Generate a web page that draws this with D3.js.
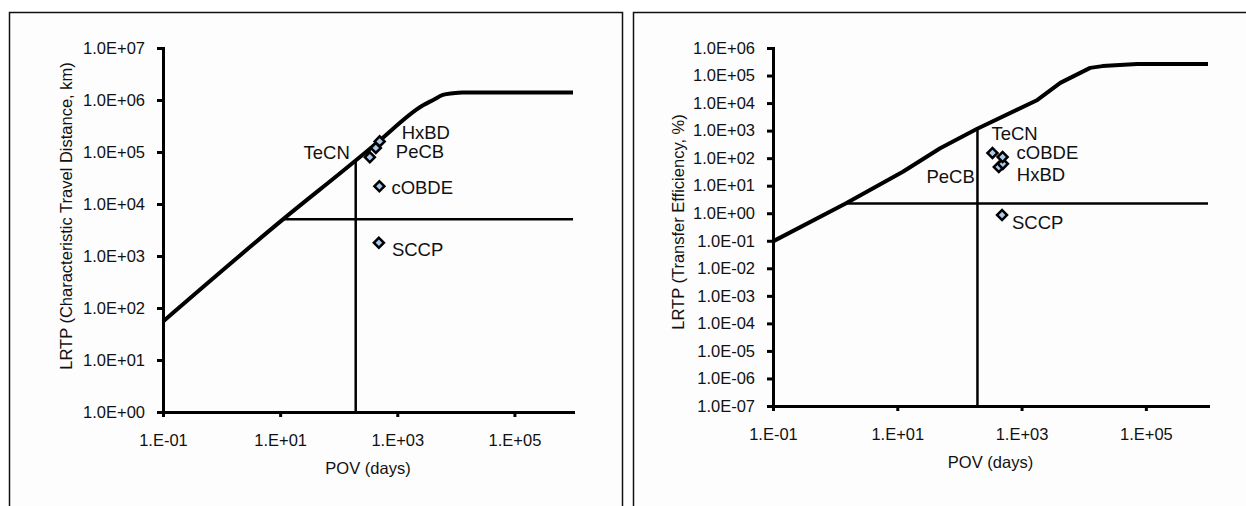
<!DOCTYPE html>
<html>
<head>
<meta charset="utf-8">
<script src="https://cdn.jsdelivr.net/npm/d3@7"></script>
<style>
  body { margin: 0; background: #fff; }
  svg { display: block; font-family: "Liberation Sans", Arial, sans-serif; }
  .axis path, .axis line { stroke: #000; stroke-width: 3; }
  .axis text { font-size: 16.5px; fill: #111; }
</style>
</head>
<body>
<svg id="chart" width="1246" height="506"></svg>
<script>
// chemicals, POV in days (shared by both panels)
const chemicals = ["TeCN", "PeCB", "HxBD", "cOBDE", "SCCP"]
const chemPOV = [340, 430, 500, 495, 485]
const chemCTD = [79000, 120000, 160000, 22000, 1800]
const chemTE = [155, 48, 62, 110, 0.87]

// reference (model) curves
const ctdCurvePOV = [0.1, 12, 175, 450, 2800, 4100, 6000, 8900, 13000, 1e6]
const ctdCurveValue = [55, 5400, 62000, 150000, 800000, 1000000, 1250000, 1350000, 1400000, 1400000]
const teCurvePOV = [0.1, 1.45, 12.3, 49, 190, 1800, 4200, 12700, 20000, 38000, 73000, 1e6]
const teCurveValue = [0.095, 2.2, 32, 230, 1150, 13000, 54000, 190000, 220000, 240000, 260000, 260000]

// thresholds
const povThreshold = 195
const ctdThreshold = 5097
const teThreshold = 2.248

// ticks
const povTicks = [0.1, 10, 1e3, 1e5]
const ctdTicks = [1, 10, 1e2, 1e3, 1e4, 1e5, 1e6, 1e7]
const teTicks = [1e-7, 1e-6, 1e-5, 1e-4, 1e-3, 1e-2, 1e-1, 1, 10, 1e2, 1e3, 1e4, 1e5, 1e6]

const svg = d3.select("#chart")

function expFmt(d, digits) {
    let [m, e] = d.toExponential(digits).split("e")
    if (digits == 0) m = m + "."
    let sign = e[0] == "-" ? "-" : "+"
    let n = e.replace(/[+-]/, "")
    if (n.length < 2) n = "0" + n
    return m + "E" + sign + n
}

function drawPanel(cfg) {
    const g = svg.append("g")

    g.append("rect")
        .attr("x", cfg.box[0]).attr("y", cfg.box[1])
        .attr("width", cfg.box[2]).attr("height", cfg.box[3])
        .attr("fill", "#fdfdfd").attr("stroke", "#111").attr("stroke-width", 1.5)

    const x = d3.scaleLog().domain([0.1, 1e6]).range([cfg.left, cfg.right])
    const y = d3.scaleLog().domain(cfg.yDomain).range([cfg.bottom, cfg.top])

    // curve
    const pts = cfg.curveX.map((v, i) => [v, cfg.curveY[i]])
    g.append("path")
        .datum(pts)
        .attr("fill", "none").attr("stroke", "#000").attr("stroke-width", 4)
        .attr("stroke-linejoin", "round")
        .attr("d", d3.line().x(d => x(d[0])).y(d => y(d[1])).curve(cfg.curve))

    // threshold lines, ending at the curve
    const lx = cfg.curveX.map(Math.log10), ly = cfg.curveY.map(Math.log10)
    const povAtThr = Math.pow(10, d3.scaleLinear().domain(ly.slice(0, -1)).range(lx.slice(0, -1))(Math.log10(cfg.threshold)))
    const valAtPov = Math.pow(10, d3.scaleLinear().domain(lx).range(ly)(Math.log10(povThreshold)))

    g.append("line")
        .attr("x1", x(povAtThr)).attr("x2", x(1e6))
        .attr("y1", y(cfg.threshold)).attr("y2", y(cfg.threshold))
        .attr("stroke", "#000").attr("stroke-width", 2.5)
    g.append("line")
        .attr("x1", x(povThreshold)).attr("x2", x(povThreshold))
        .attr("y1", y(valAtPov)).attr("y2", y(cfg.yDomain[0]))
        .attr("stroke", "#000").attr("stroke-width", 2.5)

    // axes
    g.append("g").attr("class", "axis")
        .attr("transform", `translate(0,${cfg.bottom})`)
        .call(d3.axisBottom(x).tickValues(povTicks).tickFormat(d => expFmt(d, 0))
            .tickSizeInner(5).tickSizeOuter(0).tickPadding(17))
    g.append("g").attr("class", "axis")
        .attr("transform", `translate(${cfg.left},0)`)
        .call(d3.axisLeft(y).tickValues(cfg.yTicks).tickFormat(d => expFmt(d, 1))
            .tickSizeInner(6).tickSizeOuter(0).tickPadding(12))
    g.selectAll(".axis path").attr("stroke-linecap", "square")

    // titles
    g.append("text")
        .attr("x", (cfg.left + cfg.right) / 2).attr("y", cfg.bottom + 56)
        .attr("text-anchor", "middle").attr("dominant-baseline", "central")
        .attr("font-size", 16.5).attr("fill", "#111")
        .text("POV (days)")
    g.append("text")
        .attr("transform", `translate(${cfg.titleX},${cfg.titleY}) rotate(-90)`)
        .attr("text-anchor", "middle").attr("dominant-baseline", "central")
        .attr("font-size", 16.5).attr("fill", "#111")
        .text(cfg.yTitle)

    // chemicals
    const chem = chemicals.map((c, i) => ({ name: c, pov: chemPOV[i], val: cfg.values[i] }))
    g.selectAll(".pt")
        .data(chem)
        .join("path")
        .attr("class", "pt")
        .attr("d", d3.symbol().type(d3.symbolSquare).size(50))
        .attr("transform", d => `translate(${x(d.pov)},${y(d.val)}) rotate(45)`)
        .attr("fill", "#a9c8ec").attr("stroke", "#000").attr("stroke-width", 2.5)

    g.selectAll(".lbl")
        .data(chem)
        .join("text")
        .attr("class", "lbl")
        .attr("x", d => x(d.pov) + cfg.labels[d.name][0])
        .attr("y", d => y(d.val) + cfg.labels[d.name][1])
        .attr("text-anchor", d => cfg.labels[d.name][2] || "start")
        .attr("dominant-baseline", "central")
        .attr("font-size", 18.5).attr("fill", "#111")
        .text(d => d.name)
}

drawPanel({
    box: [9.5, 12.5, 613, 520],
    left: 163, right: 573, top: 48, bottom: 412,
    yDomain: [1, 1e7], yTicks: ctdTicks,
    curveX: ctdCurvePOV, curveY: ctdCurveValue, threshold: ctdThreshold,
    curve: d3.curveMonotoneX,
    values: chemCTD,
    yTitle: "LRTP (Characteristic Travel Distance, km)", titleX: 66, titleY: 216,
    labels: { TeCN: [-20, -5, "end"], PeCB: [20, 4], HxBD: [22, -9], cOBDE: [12, 1], SCCP: [13, 7] }
})

drawPanel({
    box: [633.5, 12.5, 700, 520],
    left: 773, right: 1208, top: 48, bottom: 406,
    yDomain: [1e-7, 1e6], yTicks: teTicks,
    curveX: teCurvePOV, curveY: teCurveValue, threshold: teThreshold,
    curve: d3.curveLinear,
    values: chemTE,
    yTitle: "LRTP (Transfer Efficiency, %)", titleX: 678, titleY: 222,
    labels: { TeCN: [-1, -19], PeCB: [-24, 10, "end"], HxBD: [14, 11], cOBDE: [14, -5], SCCP: [10, 8] }
})
</script>
</body>
</html>
